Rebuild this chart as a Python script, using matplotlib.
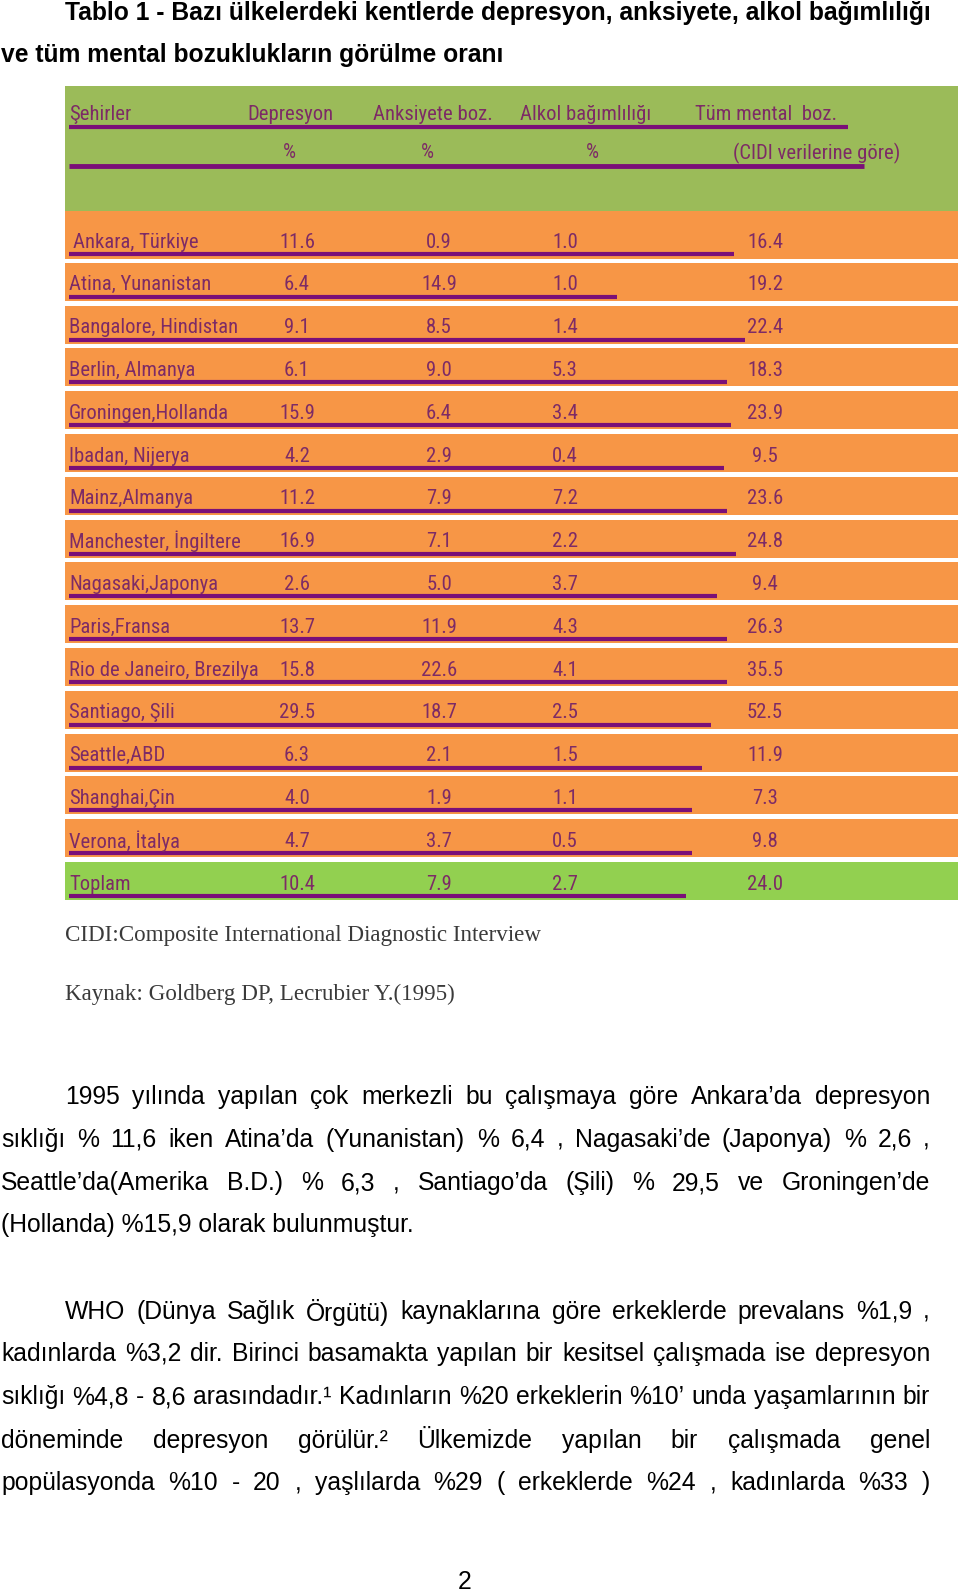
import matplotlib.pyplot as plt
from matplotlib import font_manager
from matplotlib.font_manager import FontProperties

# table data (Goldberg & Lecrubier 1995)
cities = ["Ankara, Türkiye", "Atina, Yunanistan", "Bangalore, Hindistan", "Berlin, Almanya",
          "Groningen,Hollanda", "Ibadan, Nijerya", "Mainz,Almanya", "Manchester, İngiltere",
          "Nagasaki,Japonya", "Paris,Fransa", "Rio de Janeiro, Brezilya", "Santiago, Şili",
          "Seattle,ABD", "Shanghai,Çin", "Verona, İtalya", "Toplam"]
depresyon = [11.6, 6.4, 9.1, 6.1, 15.9, 4.2, 11.2, 16.9, 2.6, 13.7, 15.8, 29.5, 6.3, 4.0, 4.7, 10.4]
anksiyete = [0.9, 14.9, 8.5, 9.0, 6.4, 2.9, 7.9, 7.1, 5.0, 11.9, 22.6, 18.7, 2.1, 1.9, 3.7, 7.9]
alkol = [1.0, 1.0, 1.4, 5.3, 3.4, 0.4, 7.2, 2.2, 3.7, 4.3, 4.1, 2.5, 1.5, 1.1, 0.5, 2.7]
tum_mental = [16.4, 19.2, 22.4, 18.3, 23.9, 9.5, 23.6, 24.8, 9.4, 26.3, 35.5, 52.5, 11.9, 7.3, 9.8, 24.0]
# where each purple underline stops (px)
underline_end = [734, 617, 745, 727, 731, 724, 727, 736, 717, 727, 727, 711, 702, 692, 692, 686]

headers = ["Şehirler", "Depresyon", "Anksiyete boz.", "Alkol bağımlılığı", "Tüm mental  boz."]
header_x = [69, 247, 373, 520, 695]

title = ["Tablo 1 - Bazı ülkelerdeki kentlerde depresyon, anksiyete, alkol bağımlılığı",
         "ve tüm mental bozuklukların görülme oranı"]
notes = ["CIDI:Composite International Diagnostic Interview",
         "Kaynak: Goldberg DP, Lecrubier Y.(1995)"]
para1 = ["1995 yılında yapılan çok merkezli bu çalışmaya göre Ankara’da depresyon",
         "sıklığı % 11,6 iken Atina’da (Yunanistan) % 6,4 , Nagasaki’de (Japonya) % 2,6 ,",
         "Seattle’da(Amerika B.D.) % 6,3 , Santiago’da (Şili) % 29,5 ve Groningen’de",
         "(Hollanda) %15,9 olarak bulunmuştur."]
para2 = ["WHO (Dünya Sağlık Örgütü) kaynaklarına göre erkeklerde prevalans %1,9 ,",
         "kadınlarda %3,2 dir. Birinci basamakta yapılan bir kesitsel çalışmada ise depresyon",
         "sıklığı %4,8 - 8,6 arasındadır.¹  Kadınların %20 erkeklerin %10’ unda yaşamlarının bir",
         "döneminde depresyon görülür.²  Ülkemizde yapılan bir çalışmada genel",
         "popülasyonda %10 - 20 , yaşlılarda %29 ( erkeklerde %24 , kadınlarda %33 )"]

sans = "Liberation Sans"
serif = "Liberation Serif"


def pick_narrow():
    good = []
    for f in font_manager.fontManager.ttflist:
        nm = f.name.lower()
        cond = "condensed" in nm or "narrow" in nm or f.stretch in ("condensed", "semi-condensed", "extra-condensed")
        if cond and f.weight in (400, "normal", "regular") and f.style == "normal":
            good.append(f)
    order = ["liberation sans narrow", "roboto condensed", "open sans condensed", "noto sans", "dejavu sans"]
    for o in order:
        for f in good:
            if f.name.lower().startswith(o):
                return f.fname
    return good[0].fname if good else None


narrow_file = pick_narrow()


def tprop(size):
    if narrow_file:
        return FontProperties(fname=narrow_file, size=size)
    return FontProperties(family=sans, size=size)


ORANGE = "#f79646"
GREEN = "#9bbb59"
GREEN2 = "#92d050"
PURPLE = "#7d2b66"
ULINE = "#7a0f78"

fig = plt.figure(figsize=(9.6, 15.93), dpi=100)
ax = fig.add_axes([0, 0, 1, 1])
ax.set_xlim(0, 960)
ax.set_ylim(1593, 0)
ax.axis("off")
renderer = fig.canvas.get_renderer()


def width_px(s, **kw):
    t = ax.text(0, 0, s, **kw)
    w = t.get_window_extent(renderer).width
    t.remove()
    return w


def fit_size(s, target, family, weight="normal", base=14):
    return base * target / width_px(s, fontsize=base, family=family, weight=weight)


def justified(line, y, x0, x1, **kw):
    words = line.split()
    ws = [width_px(w, **kw) for w in words]
    gap = (x1 - x0 - sum(ws)) / (len(words) - 1)
    x = x0
    for w, wd in zip(words, ws):
        ax.text(x, y, w, va="center", ha="left", **kw)
        x += wd + gap


# title
ts = fit_size(title[0], 865, sans, "bold")
ax.text(65, 13, title[0], fontsize=ts, family=sans, weight="bold", va="center")
ax.text(1, 55, title[1], fontsize=ts, family=sans, weight="bold", va="center")

# table header
ax.barh(148.5, 893, left=65, height=125, color=GREEN)
tsz = 14 * 190 / width_px(cities[10], fontproperties=tprop(14))
tsz = min(tsz, 20)
fp = tprop(tsz)
for x, h in zip(header_x, headers):
    ax.text(x, 115, h, fontproperties=fp, color=PURPLE, va="center")
for x in [289, 427, 592]:
    ax.text(x, 153, "%", fontproperties=fp, color=PURPLE, va="center", ha="center")
ax.text(733, 153, "(CIDI verilerine göre)", fontproperties=fp, color=PURPLE, va="center")
ax.plot([69, 848], [127, 127], color=ULINE, lw=3, solid_capstyle="butt")
ax.plot([69, 864], [166, 166], color=ULINE, lw=3.5, solid_capstyle="butt")

# table rows
n = len(cities)
yc = [241 + i * 42.8 for i in range(n)]
colors = [ORANGE] * (n - 1) + [GREEN2]
ax.barh([y - 2 for y in yc[1:]], 893, left=65, height=38, color=colors[1:])
ax.barh(235, 893, left=65, height=48, color=ORANGE)
for i in range(n):
    y = yc[i]
    ax.text(69 if i else 73, y + 1, cities[i], fontproperties=fp, color=PURPLE, va="center")
    for x, v in zip([297, 439, 565, 765], [depresyon[i], anksiyete[i], alkol[i], tum_mental[i]]):
        ax.text(x, y + 1, f"{v:.1f}", fontproperties=fp, color=PURPLE, va="center", ha="center")
    ax.plot([69, underline_end[i]], [y + 13, y + 13], color=ULINE, lw=3, solid_capstyle="butt")

# notes under the table
ns = fit_size(notes[0], 479, serif)
ax.text(65, 935, notes[0], fontsize=ns, family=serif, color="#3a3a3a", va="center")
ax.text(65, 994, notes[1], fontsize=ns, family=serif, color="#3a3a3a", va="center")

# body paragraphs
bs = fit_size(para1[3], 417, sans)
kw = dict(fontsize=bs, family=sans, color="black")
p1_y = [1097, 1140, 1183, 1225]
p2_y = [1312, 1354, 1397, 1441, 1483]
for para, ys in [(para1, p1_y), (para2, p2_y)]:
    for j, (line, y) in enumerate(zip(para, ys)):
        x0 = 65 if j == 0 else 1
        if para is para1 and j == len(para) - 1:
            ax.text(x0, y, line, va="center", **kw)
        else:
            justified(line, y, x0, 930, **kw)

ax.text(465, 1582, "2", fontsize=bs, family=sans, va="center", ha="center")

fig.savefig("out.png", dpi=100)
